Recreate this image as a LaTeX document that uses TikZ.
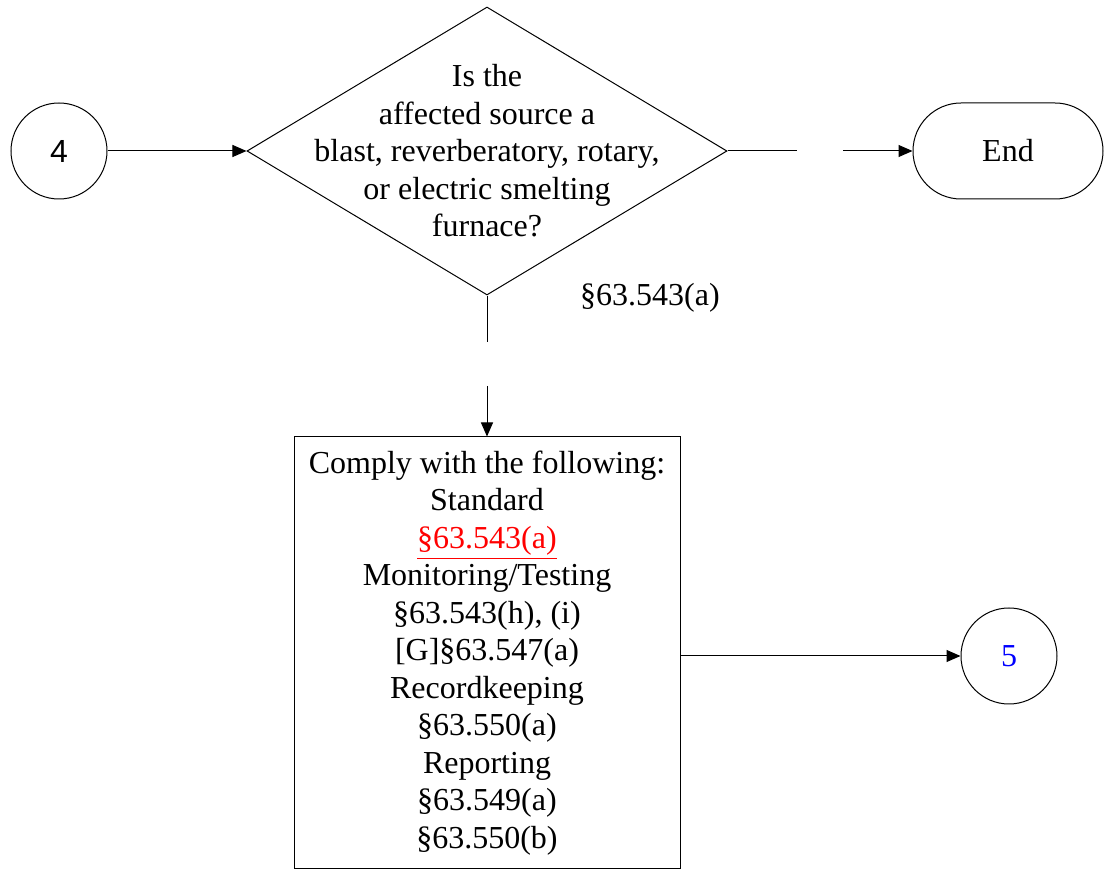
\documentclass[tikz,border=0pt]{standalone}
\usepackage{fontspec}
\setmainfont{Liberation Serif}
\newfontfamily\arialfont{Liberation Sans}
\usepackage{tikz}
\usetikzlibrary{shapes.geometric,arrows.meta}

\begin{document}
\begin{tikzpicture}[x=0.5pt,y=-0.5pt,->,>={Triangle[length=7pt,width=6pt]},line width=0.5pt,align=center,
    font=\fontsize{16}{18.75}\selectfont,
    conn/.style={circle,draw,minimum size=48pt,inner sep=0pt},
    decision/.style={diamond,draw,minimum width=240pt,minimum height=144pt,inner sep=0pt},
    terminal/.style={rectangle,draw,rounded corners=24pt,minimum width=95pt,minimum height=48pt},
    process/.style={rectangle,draw,minimum width=193pt,minimum height=216pt,inner sep=0pt}]
        \useasboundingbox (0,0) rectangle (1105,871);

        \node[conn] (c4) at (59,151) {\arialfont 4};
        \node[decision] (dec) at (487,151) {};
        \node (dectext) at (487,151) {Is the\\affected source a\\blast, reverberatory, rotary,\\or electric smelting\\furnace?};
        \node[terminal] (end) at (1008,151) {End};
        \node (ref) at (650,298) {\S63.543(a)};
        \node[process] (comply) at (487,653) {Comply with the following:\\Standard\\\textcolor{red}{\underline{\S63.543(a)}}\\Monitoring/Testing\\\S63.543(h), (i)\\{[G]}\S63.547(a)\\Recordkeeping\\\S63.550(a)\\Reporting\\\S63.549(a)\\\S63.550(b)};
        \node[conn] (c5) at (1009,656) {\textcolor{blue}{5}};

        \coordinate (noa) at (797,151);
        \coordinate (nob) at (843,151);
        \coordinate (yesa) at (487,342);
        \coordinate (yesb) at (487,386);

        \path[->] (c4) edge (dec)
                  (nob) edge (end)
                  (yesb) edge (comply)
                  (comply.east |- c5) edge (c5);
        \path[-] (dec) edge (noa)
                 (dec) edge (yesa);
    \end{tikzpicture}
\end{document}
